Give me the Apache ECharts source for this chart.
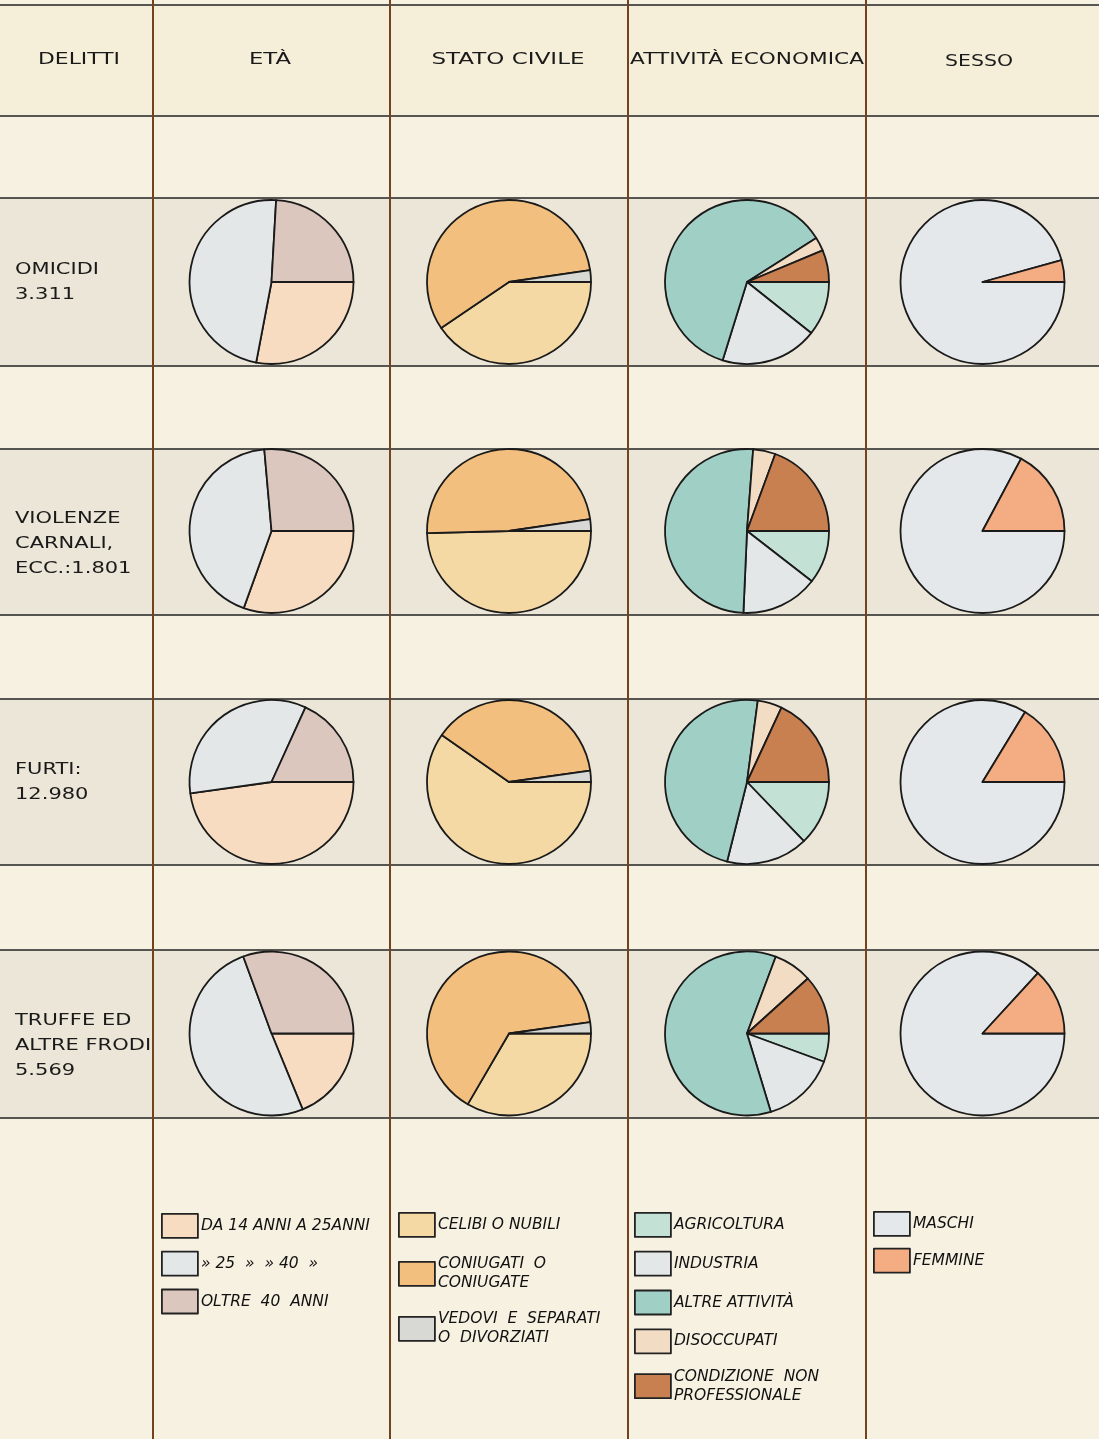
<!DOCTYPE html>
<html><head><meta charset="utf-8">
<script src="https://cdn.jsdelivr.net/npm/echarts@6/dist/echarts.min.js"></script>
<style>html,body{margin:0;padding:0;background:#f6f0e1}#c{width:1099px;height:1439px}</style>
</head><body><div id="c"></div>
<script>
// ---------------- DATA ----------------
const headers = ['DELITTI', 'ETÀ', 'STATO CIVILE', 'ATTIVITÀ ECONOMICA', 'SESSO'];
const crimeLabels = [
  ['OMICIDI', '3.311'],
  ['VIOLENZE', 'CARNALI,', 'ECC.:1.801'],
  ['FURTI:', '12.980'],
  ['TRUFFE ED', 'ALTRE FRODI', '5.569']
];
const ageCats = ['DA 14 ANNI A 25ANNI', '» 25  »  » 40  »', 'OLTRE  40  ANNI'];
const civilCats = ['CELIBI O NUBILI', 'CONIUGATI O CONIUGATE', 'VEDOVI E SEPARATI O DIVORZIATI'];
const actCats = ['AGRICOLTURA', 'INDUSTRIA', 'ALTRE ATTIVITÀ', 'DISOCCUPATI', 'CONDIZIONE NON PROFESSIONALE'];
const sexCats = ['MASCHI', 'FEMMINE'];

// percentages, one array per crime (omicidi, violenze, furti, truffe)
const ageValues = [
  [28.0, 47.9, 24.1],
  [30.5, 43.1, 26.4],
  [47.8, 34.0, 18.2],
  [18.8, 50.6, 30.6]
];
const civilValues = [
  [40.5, 57.2, 2.3],
  [49.6, 48.1, 2.3],
  [59.7, 38.1, 2.2],
  [33.4, 64.4, 2.2]
];
const actValues = [
  [10.7, 19.1, 61.2, 2.7, 6.3],
  [10.5, 15.2, 50.5, 4.4, 19.4],
  [12.8, 16.1, 48.2, 4.8, 18.1],
  [5.6, 14.7, 60.4, 7.6, 11.7]
];
const sexValues = [
  [95.7, 4.3],
  [82.8, 17.2],
  [83.7, 16.3],
  [86.8, 13.2]
];

// ---------------- STYLE / LAYOUT ----------------
const ageColors = ['#f7dcc2', '#e4e7e8', '#dcc7be'];
const civilColors = ['#f5d9a4', '#f3bf7e', '#d8d9d4'];
const actColors = ['#c4e1d6', '#e3e7e7', '#9fcfc5', '#f3dcc4', '#c98050'];
const sexColors = ['#e4e8eb', '#f4ac82'];

const colLines = [153, 390, 628, 866];
const colCenters = [271.5, 509, 747, 982.5];
const rowCenters = [282, 531, 782, 1033.5];
const bands = [[198, 366], [449, 615], [699, 865], [950, 1118]];
const hLines = [5, 116, 198, 366, 449, 615, 699, 865, 950, 1118];
const headerX = [79, 270, 508, 747, 979];
const headerW = [82, 42, 153, 234, 68];
const R = 82;
const INK = '#1a1a1a';

const mctx = document.createElement('canvas').getContext('2d');
function fit(str, font, target) { mctx.font = font; return target / mctx.measureText(str).width; }

const graphics = [];
graphics.push({ type: 'rect', z: -10, shape: { x: 0, y: 0, width: 1099, height: 1439 }, style: { fill: '#f7f1e2' } });
graphics.push({ type: 'rect', z: -9, shape: { x: 0, y: 5, width: 1099, height: 111 }, style: { fill: '#f5eed9' } });
bands.forEach(b => {
  graphics.push({ type: 'rect', z: -9, shape: { x: 0, y: b[0], width: 1099, height: b[1] - b[0] }, style: { fill: '#ebe6d7' } });
});
hLines.forEach(y => {
  graphics.push({ type: 'line', z: -5, shape: { x1: 0, y1: y, x2: 1099, y2: y }, style: { stroke: '#222', lineWidth: 1.6 } });
});
colLines.forEach(x => {
  graphics.push({ type: 'line', z: -4, shape: { x1: x, y1: 0, x2: x, y2: 1439 }, style: { stroke: '#74421f', lineWidth: 2 } });
});
const HF = '16px "DejaVu Sans"';
headers.forEach((h, i) => {
  graphics.push({ type: 'text', z: 5, x: headerX[i], y: i === 4 ? 62 : 60, scaleX: fit(h, HF, headerW[i]),
    style: { text: h, font: HF, fill: INK, align: 'center', verticalAlign: 'middle' } });
});
const LF = '15px "DejaVu Sans"';
crimeLabels.forEach((lines, r) => {
  lines.forEach((t, k) => {
    graphics.push({ type: 'text', z: 5, x: 15, y: rowCenters[r] - 12 + k * 25, scaleX: 1.4,
      style: { text: t, font: LF, fill: INK, align: 'left', verticalAlign: 'middle' } });
  });
});

// ---------------- SERIES ----------------
const groups = [
  { cats: ageCats, vals: ageValues, colors: ageColors },
  { cats: civilCats, vals: civilValues, colors: civilColors },
  { cats: actCats, vals: actValues, colors: actColors },
  { cats: sexCats, vals: sexValues, colors: sexColors }
];
const series = [];
groups.forEach((g, c) => {
  g.vals.forEach((v, r) => {
    series.push({
      type: 'pie', name: headers[c + 1] + ' ' + crimeLabels[r][0],
      center: [colCenters[c], rowCenters[r]], radius: R,
      startAngle: 0, clockwise: true, animation: false,
      label: { show: false }, labelLine: { show: false },
      emphasis: { disabled: true },
      itemStyle: { borderColor: INK, borderWidth: 1.8 },
      data: v.map((val, i) => ({ name: g.cats[i], value: val, itemStyle: { color: g.colors[i] } }))
    });
  });
});

const wrap = {
  'CONIUGATI O CONIUGATE': 'CONIUGATI  O\nCONIUGATE',
  'VEDOVI E SEPARATI O DIVORZIATI': 'VEDOVI  E  SEPARATI\nO  DIVORZIATI',
  'CONDIZIONE NON PROFESSIONALE': 'CONDIZIONE  NON\nPROFESSIONALE'
};
const legendCommon = {
  orient: 'vertical', icon: 'rect', itemWidth: 36, itemHeight: 24, selectedMode: false, padding: 0,
  itemStyle: { borderColor: '#222', borderWidth: 1.8 },
  formatter: n => wrap[n] || n,
  textStyle: { fontFamily: 'DejaVu Sans', fontStyle: 'italic', fontSize: 15.5, fontWeight: 'normal', color: '#111', lineHeight: 19, padding: [0, 0, 0, -2] }
};
const option = {
  animation: false,
  graphic: { elements: graphics },
  legend: [
    Object.assign({}, legendCommon, { data: ageCats, left: 161, top: 1213, itemGap: 12 }),
    Object.assign({}, legendCommon, { data: civilCats, left: 398, top: 1212, itemGap: 17 }),
    Object.assign({}, legendCommon, { data: actCats, left: 634, top: 1212, itemGap: 13 }),
    Object.assign({}, legendCommon, { data: sexCats, left: 873, top: 1211, itemGap: 11 })
  ],
  series: series
};
const chart = echarts.init(document.getElementById('c'), null, { renderer: 'canvas' });
chart.setOption(option);
</script></body></html>
